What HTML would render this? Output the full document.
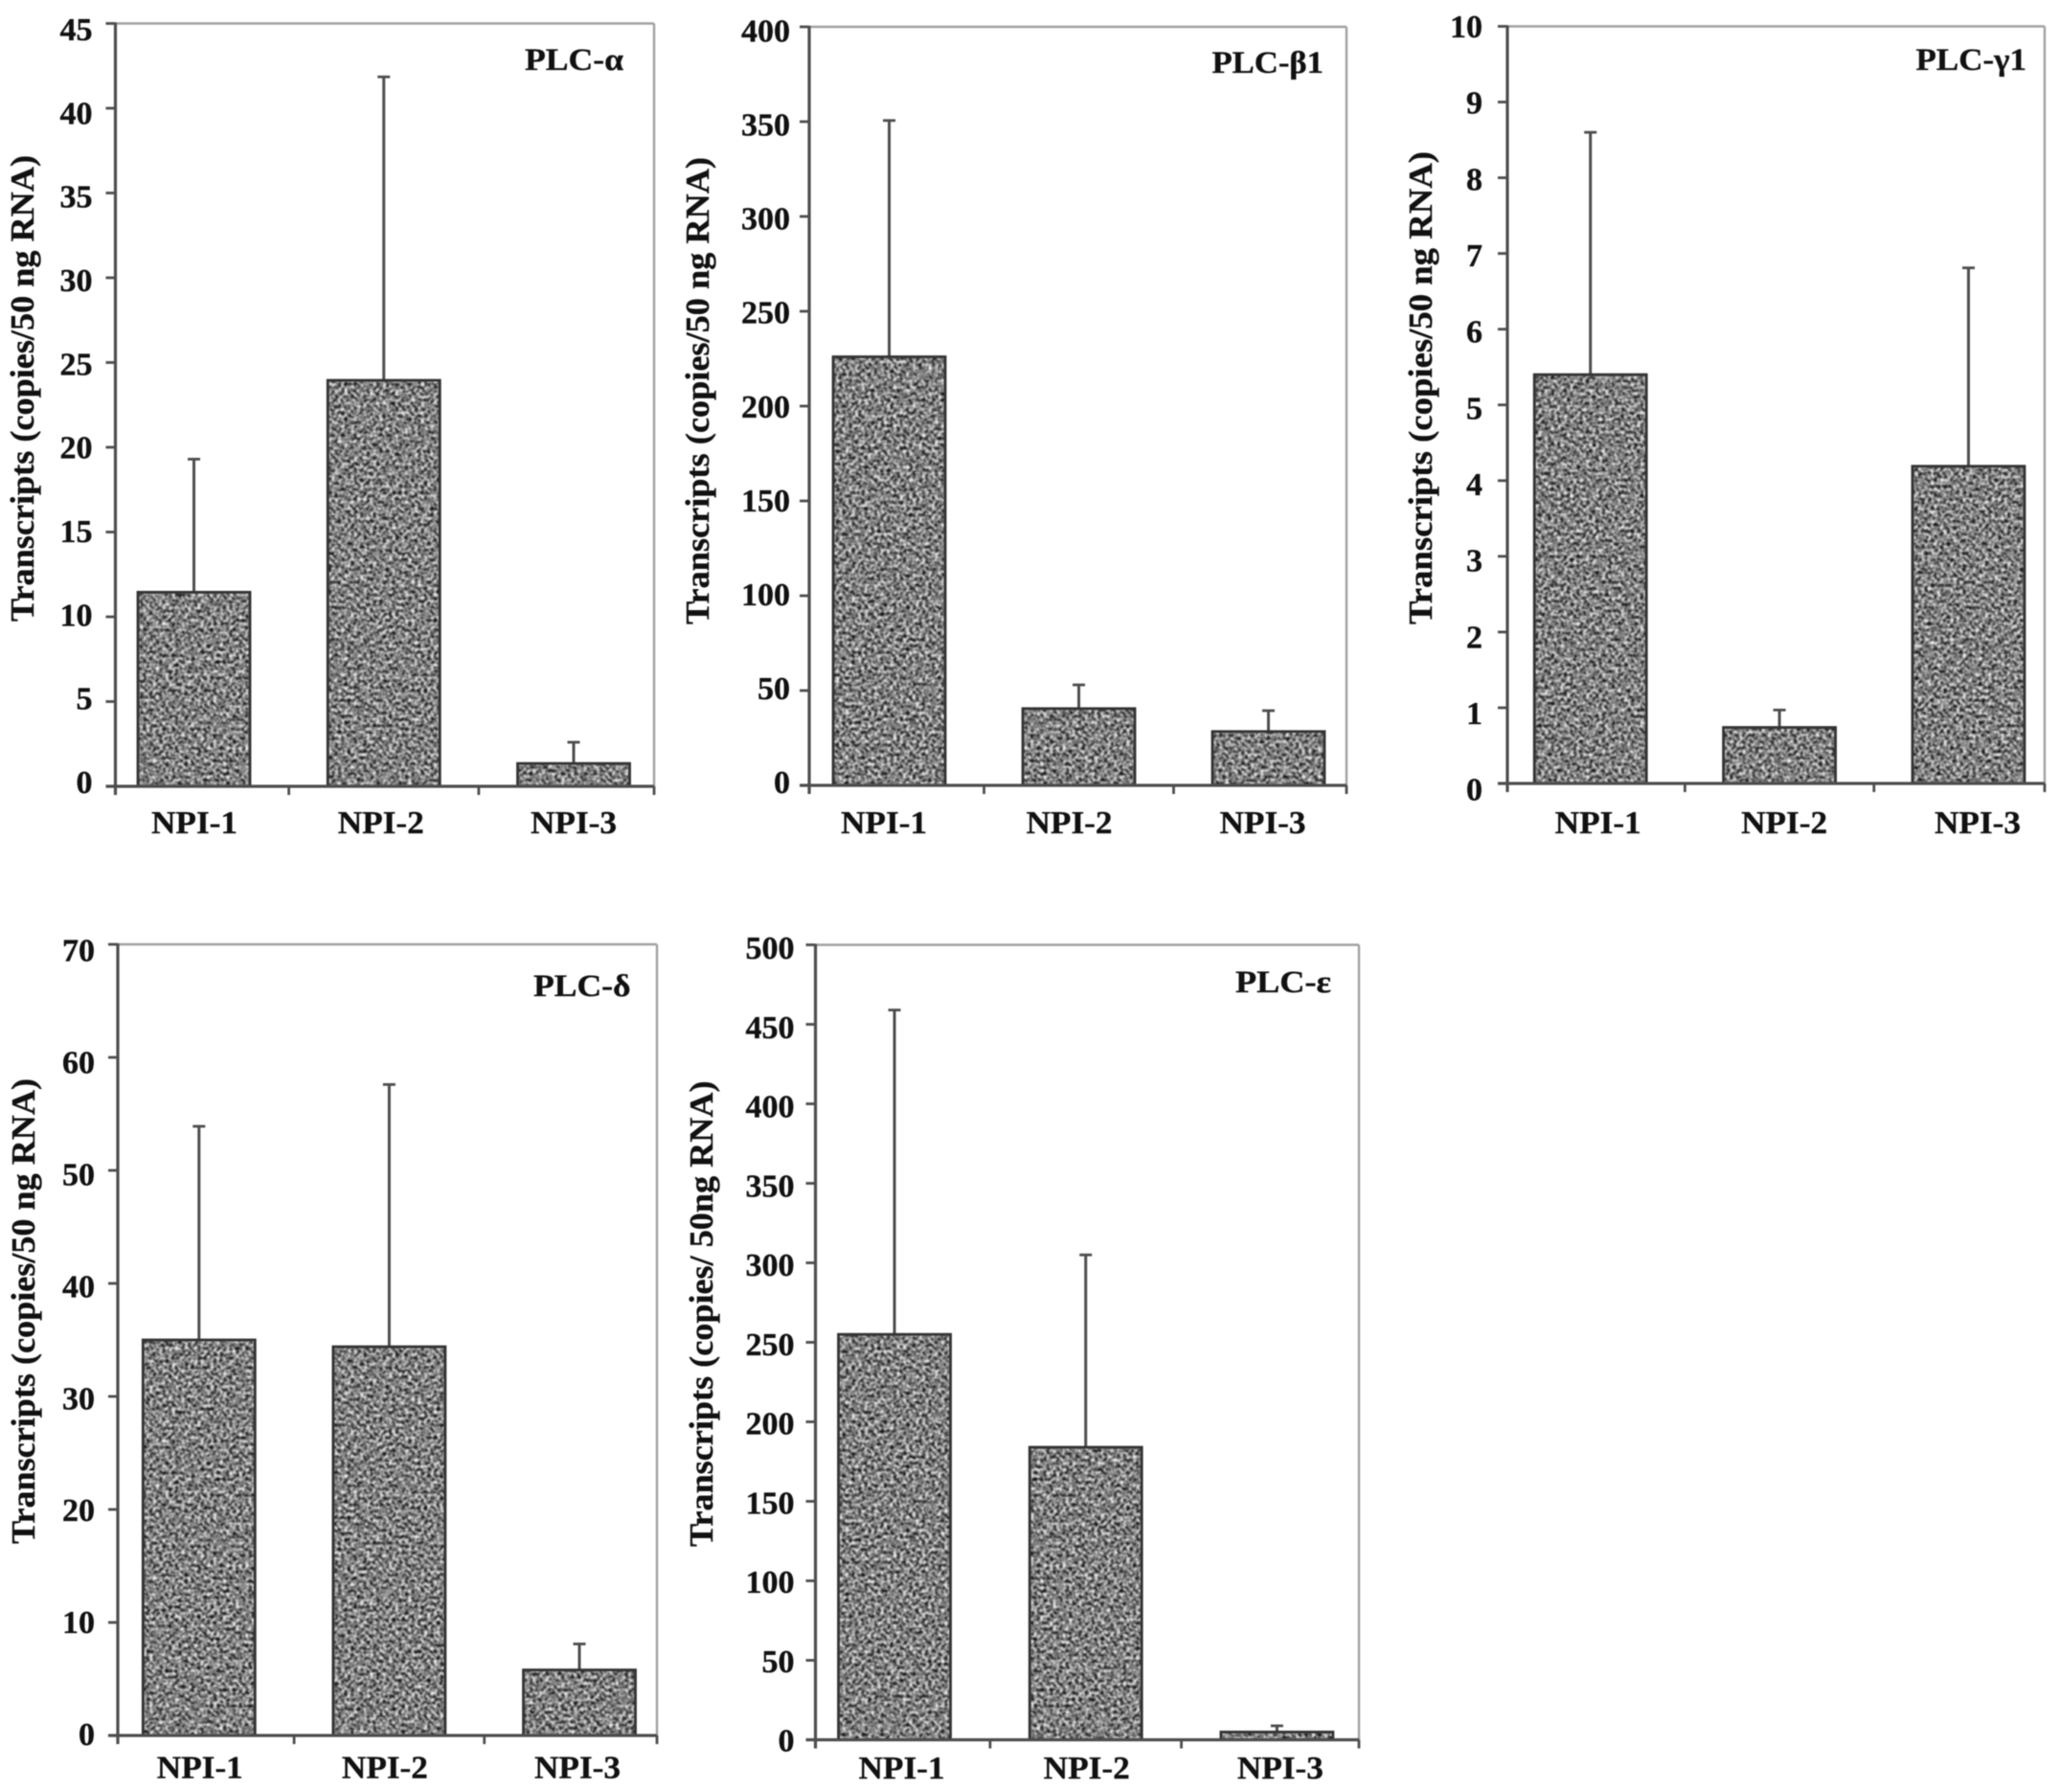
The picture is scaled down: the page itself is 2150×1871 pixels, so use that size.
<!DOCTYPE html>
<html lang="en">
<head>
<meta charset="utf-8">
<title>PLC isoform transcript levels</title>
<style>
  html, body { margin: 0; padding: 0; background: #fff; }
  #figure { display: block; width: 2150px; height: 1871px; }
  text { font-family: "Liberation Serif", "DejaVu Serif", serif; font-weight: bold; fill: #111; stroke: #111; stroke-width: 0.35px; }
</style>
</head>
<body>
<svg id="figure" xmlns="http://www.w3.org/2000/svg" width="2150" height="1871" viewBox="0 0 2150 1871">
  <defs>
    <filter id="speckle" filterUnits="objectBoundingBox" x="0" y="0" width="1" height="1" color-interpolation-filters="sRGB">
      <feTurbulence type="fractalNoise" baseFrequency="0.3" numOctaves="2" seed="7" result="noise"/>
      <feColorMatrix in="noise" type="matrix" values="2 0 0 0 -0.5  2 0 0 0 -0.5  2 0 0 0 -0.5  0 0 0 0 1" result="gray"/>
      <feGaussianBlur in="gray" stdDeviation="0.8" result="soft"/>
      <feComposite in="soft" in2="SourceAlpha" operator="in"/>
    </filter>
    <filter id="scan-soften" filterUnits="userSpaceOnUse" x="0" y="0" width="2150" height="1871" color-interpolation-filters="sRGB">
      <feGaussianBlur stdDeviation="0.6"/>
    </filter>
  </defs>
  <rect x="0" y="0" width="2150" height="1871" fill="#fff"/>
  <g id="panels" filter="url(#scan-soften)"></g>
</svg>
<script>
// Shared category names
const categories = ["NPI-1", "NPI-2", "NPI-3"];

// PLC-alpha
const alphaTickLabels = ["0", "5", "10", "15", "20", "25", "30", "35", "40", "45"];
const alphaMeans = [11.45, 23.95, 1.35];
const alphaErrorTops = [19.3, 41.85, 2.6];

// PLC-beta1
const beta1TickLabels = ["0", "50", "100", "150", "200", "250", "300", "350", "400"];
const beta1Means = [226, 40.5, 28.4];
const beta1ErrorTops = [350.6, 53, 39.4];

// PLC-gamma1
const gamma1TickLabels = ["0", "1", "2", "3", "4", "5", "6", "7", "8", "9", "10"];
const gamma1Means = [5.4, 0.74, 4.19];
const gamma1ErrorTops = [8.6, 0.97, 6.81];

// PLC-delta
const deltaTickLabels = ["0", "10", "20", "30", "40", "50", "60", "70"];
const deltaMeans = [35, 34.4, 5.8];
const deltaErrorTops = [53.9, 57.6, 8.1];

// PLC-epsilon
const epsilonTickLabels = ["0", "50", "100", "150", "200", "250", "300", "350", "400", "450", "500"];
const epsilonMeans = [255, 184, 4.9];
const epsilonErrorTops = [459, 305, 8.8];

const panels = [
  { slug: "plc-alpha", title: "PLC-α", yTitle: "Transcripts (copies/50 ng RNA)",
    ticks: alphaTickLabels, means: alphaMeans, errs: alphaErrorTops,
    x0: 120.5, x1: 683, yTop: 24.5, y0: 821, first: 202.5, step: 198.25,
    tickGap: 24, labelDyTop: 6, labelDyBottom: -4.5,
    titleX: 548, titleW: 103, titleY: 73,
    yTitleX: 35, yTitleTop: 162, yTitleBottom: 649,
    catY: 870, catDx: [0.5, -3, 0] },
  { slug: "plc-beta1", title: "PLC-β1", yTitle: "Transcripts (copies/50 ng RNA)",
    ticks: beta1TickLabels, means: beta1Means, errs: beta1ErrorTops,
    x0: 845, x1: 1406, yTop: 28, y0: 820, first: 928.5, step: 198,
    tickGap: 20, labelDyTop: 4, labelDyBottom: -3.5,
    titleX: 1265.5, titleW: 116.5, titleY: 76,
    yTitleX: 740, yTitleTop: 164, yTitleBottom: 652,
    catY: 870, catDx: [-5.5, -10, -6] },
  { slug: "plc-gamma1", title: "PLC-γ1", yTitle: "Transcripts (copies/50 ng RNA)",
    ticks: gamma1TickLabels, means: gamma1Means, errs: gamma1ErrorTops,
    x0: 1574, x1: 2135, yTop: 27.5, y0: 818, first: 1660.7, step: 197.4,
    tickGap: 26, labelDyTop: 0, labelDyBottom: 6,
    titleX: 2000.5, titleW: 115.5, titleY: 73,
    yTitleX: 1495, yTitleTop: 158, yTitleBottom: 652,
    catY: 870, catDx: [8, 5, 9.5] },
  { slug: "plc-delta", title: "PLC-δ", yTitle: "Transcripts (copies/50 ng RNA)",
    ticks: deltaTickLabels, means: deltaMeans, errs: deltaErrorTops,
    x0: 123, x1: 686, yTop: 986, y0: 1812, first: 207.8, step: 198.6,
    tickGap: 24, labelDyTop: 6, labelDyBottom: -1.5,
    titleX: 557, titleW: 101.5, titleY: 1040,
    yTitleX: 36, yTitleTop: 1126, yTitleBottom: 1612,
    catY: 1856.5, catDx: [1, -4.5, -2] },
  { slug: "plc-epsilon", title: "PLC-ε", yTitle: "Transcripts (copies/ 50ng RNA)",
    ticks: epsilonTickLabels, means: epsilonMeans, errs: epsilonErrorTops,
    x0: 851.5, x1: 1419, yTop: 986.5, y0: 1816.5, first: 934, step: 199.7,
    tickGap: 22, labelDyTop: 3, labelDyBottom: 0.5,
    titleX: 1290, titleW: 100, titleY: 1036,
    yTitleX: 744, yTitleTop: 1128.5, yTitleBottom: 1615,
    catY: 1857, catDx: [7.5, 1, 3.5] }
];

const SVG_NS = "http://www.w3.org/2000/svg";
const root = document.getElementById("panels");
const BAR_WIDTH = 117;
const CAP_WIDTH = 13;
const TICK_FONT = 34;

function make(tag, attrs, parent) {
  const node = document.createElementNS(SVG_NS, tag);
  for (const key in attrs) node.setAttribute(key, attrs[key]);
  parent.appendChild(node);
  return node;
}

function drawPanel(p) {
  const group = make("g", {}, root);
  
  

  const maxValue = Number(p.ticks[p.ticks.length - 1]);
  const yScale = function (v) { return p.y0 - (v / maxValue) * (p.y0 - p.yTop); };
  const xScale = function (i) { return p.first + i * p.step; };

  // Frame: top and right edges are lighter than the axes
  const frameTop = make("line", { x1: p.x0, x2: p.x1, y1: p.yTop, y2: p.yTop, stroke: "#a0a0a0", "stroke-width": 2.4 }, group);
  
  
  const frameRight = make("line", { x1: p.x1, x2: p.x1, y1: p.yTop, y2: p.y0, stroke: "#a0a0a0", "stroke-width": 2.4 }, group);
  
  

  // Bars and error bars
  categories.forEach(function (cat, i) {
    const cx = xScale(i);
    const topY = yScale(p.means[i]);
    const errY = yScale(p.errs[i]);

    const stem = make("line", { x1: cx, x2: cx, y1: errY, y2: topY, stroke: "#4d4d4d", "stroke-width": 3 }, group);
    
    
    const cap = make("line", { x1: cx - CAP_WIDTH / 2, x2: cx + CAP_WIDTH / 2, y1: errY, y2: errY, stroke: "#4d4d4d", "stroke-width": 2.8 }, group);
    
    

    const bar = make("rect", { x: cx - BAR_WIDTH / 2, y: topY, width: BAR_WIDTH, height: p.y0 - topY, fill: "#000", filter: "url(#speckle)" }, group);
    
    
    const outline = make("rect", { x: cx - BAR_WIDTH / 2, y: topY, width: BAR_WIDTH, height: p.y0 - topY, fill: "none", stroke: "#333", "stroke-width": 2.8 }, group);
    
    

    const catLabel = make("text", { x: cx + p.catDx[i], y: p.catY, "text-anchor": "middle", "font-size": 34, textLength: 90, lengthAdjust: "spacingAndGlyphs" }, group);
    catLabel.textContent = cat;
    
    
  });

  // Axes
  const yAxis = make("line", { x1: p.x0, x2: p.x0, y1: p.yTop - 1, y2: p.y0 + 9, stroke: "#4d4d4d", "stroke-width": 3.2 }, group);
  
  
  const xAxis = make("line", { x1: p.x0 - 10, x2: p.x1, y1: p.y0, y2: p.y0, stroke: "#4d4d4d", "stroke-width": 3.2 }, group);
  
  

  // X tick marks: axis ends and midpoints between bars
  [p.x0, xScale(0) + p.step / 2, xScale(1) + p.step / 2, p.x1].forEach(function (tx) {
    const xTick = make("line", { x1: tx, x2: tx, y1: p.y0, y2: p.y0 + 9, stroke: "#4d4d4d", "stroke-width": 2.8 }, group);
    
    
  });

  // Y ticks and labels
  p.ticks.forEach(function (label, i) {
    const value = Number(label);
    const ty = yScale(value);
    const t = value / maxValue;
    const labelDy = p.labelDyBottom + (p.labelDyTop - p.labelDyBottom) * t;

    const yTick = make("line", { x1: p.x0 - 10, x2: p.x0, y1: ty, y2: ty, stroke: "#4d4d4d", "stroke-width": 2.8 }, group);
    
    

    const tickText = make("text", { x: p.x0 - p.tickGap, y: ty + labelDy + TICK_FONT * 0.34, "text-anchor": "end", "font-size": TICK_FONT }, group);
    tickText.textContent = label;
    
    
  });

  // Y axis title
  const midY = (p.yTitleTop + p.yTitleBottom) / 2;
  const yTitle = make("text", {
    x: p.yTitleX, y: midY, "text-anchor": "middle", "font-size": 35,
    textLength: p.yTitleBottom - p.yTitleTop, lengthAdjust: "spacingAndGlyphs",
    transform: "rotate(-90 " + p.yTitleX + " " + midY + ")"
  }, group);
  yTitle.textContent = p.yTitle;
  
  

  // Panel title
  const panelTitle = make("text", { x: p.titleX, y: p.titleY, "font-size": 33, textLength: p.titleW, lengthAdjust: "spacingAndGlyphs" }, group);
  panelTitle.textContent = p.title;
  
  
}

panels.forEach(drawPanel);
</script>
</body>
</html>
